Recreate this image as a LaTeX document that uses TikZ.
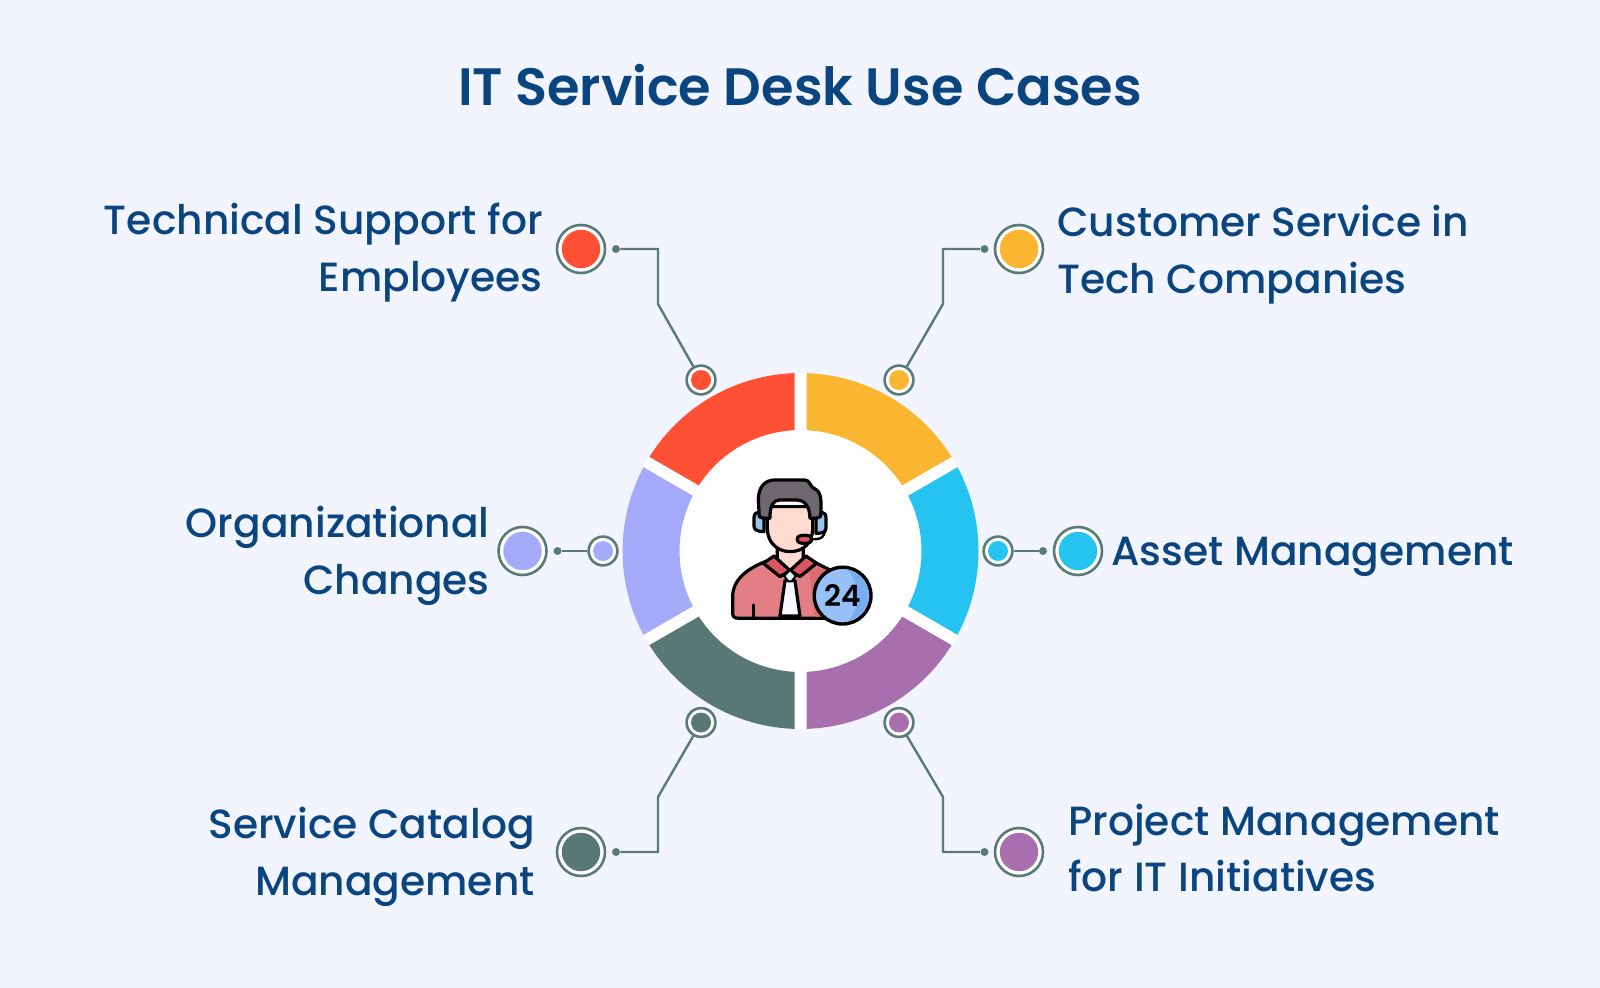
\documentclass[tikz,border=0pt]{standalone}
\usepackage{fontspec}
\setmainfont{Poppins Medium}
\newfontfamily\headfont{Poppins SemiBold}
\usepackage{tikz}

\definecolor{pageBg}{HTML}{F2F5FF}
\definecolor{navy}{HTML}{0A4580}
\definecolor{wireCol}{HTML}{5A7A75}
\definecolor{segRed}{HTML}{FF5035}
\definecolor{segOrange}{HTML}{FBB631}
\definecolor{segBlue}{HTML}{25C4F0}
\definecolor{segPurple}{HTML}{A76FAE}
\definecolor{segTeal}{HTML}{587875}
\definecolor{segLav}{HTML}{A5ABFB}
\definecolor{suitCol}{HTML}{E27F84}
\definecolor{suitDark}{HTML}{DD6B72}
\definecolor{collarCol}{HTML}{DA5560}
\definecolor{skinCol}{HTML}{FFDCCF}
\definecolor{hairCol}{HTML}{6E6770}
\definecolor{cupCol}{HTML}{9CC3EC}
\definecolor{badgeCol}{HTML}{97C0F7}
\definecolor{badgeDark}{HTML}{78ADF2}

\begin{document}
\begin{tikzpicture}[x=0.25mm,y=-0.25mm,
        ring/.style={circle,draw=wireCol,fill=white,line width=0.65mm,inner sep=0pt},
        big ring/.style={ring,minimum size=12mm},
        small ring/.style={ring,minimum size=7.2mm},
        big dot/.style={circle,inner sep=0pt,minimum size=9.6mm},
        small dot/.style={circle,inner sep=0pt,minimum size=5mm},
        tip/.style={circle,fill=wireCol,inner sep=0pt,minimum size=2mm},
        wire/.style={draw=wireCol,line width=0.6mm},
        label/.style={text=navy,inner sep=0pt,font=\fontsize{29}{40.5}\selectfont},
        ink/.style={draw=black,line width=0.8mm,line join=round,line cap=round}]

    \useasboundingbox[fill=pageBg] (0,0) rectangle (1600,988);

    \node[text=navy,font=\fontsize{37.4}{44}\headfont] (title) at (800,85) {IT Service Desk Use Cases};

    \fill[white] (800.5,551) circle[radius=178];
    \begin{scope}[shift={(800.5,551)}]
        \foreach \a/\col in {-90/segOrange,-30/segBlue,30/segPurple,90/segTeal,150/segLav,210/segRed}
            \fill[\col] (\a+1.93:178) arc[start angle=\a+1.93,end angle=\a+58.07,radius=178]
                -- (\a+57.16:121) arc[start angle=\a+57.16,end angle=\a+2.84,radius=121] -- cycle;
    \end{scope}

    \node[big ring] (redBig) at (581,249) {};
    \node[big dot,fill=segRed] at (redBig) {};
    \node[tip] (redTip) at (616,249) {};
    \coordinate (redKnee) at (658,249);
    \coordinate (redBend) at (658,304);
    \node[small ring] (redSmall) at (701,380) {};
    \node[small dot,fill=segRed] at (redSmall) {};
    \draw[wire] (redTip) -- (redKnee) -- (redBend) -- (redSmall);

    \node[big ring] (orangeBig) at (1019,249) {};
    \node[big dot,fill=segOrange] at (orangeBig) {};
    \node[tip] (orangeTip) at (984.5,249) {};
    \coordinate (orangeKnee) at (943,249);
    \coordinate (orangeBend) at (943,304);
    \node[small ring] (orangeSmall) at (899,380) {};
    \node[small dot,fill=segOrange] at (orangeSmall) {};
    \draw[wire] (orangeTip) -- (orangeKnee) -- (orangeBend) -- (orangeSmall);

    \node[big ring] (blueBig) at (1078,551) {};
    \node[big dot,fill=segBlue] at (blueBig) {};
    \node[tip] (blueTip) at (1043,551) {};
    \node[small ring] (blueSmall) at (998,551) {};
    \node[small dot,fill=segBlue] at (blueSmall) {};
    \draw[wire] (blueSmall) -- (blueTip);

    \node[big ring] (lavBig) at (522.5,551) {};
    \node[big dot,fill=segLav] at (lavBig) {};
    \node[tip] (lavTip) at (557.5,551) {};
    \node[small ring] (lavSmall) at (603,551) {};
    \node[small dot,fill=segLav] at (lavSmall) {};
    \draw[wire] (lavSmall) -- (lavTip);

    \node[big ring] (tealBig) at (581,852) {};
    \node[big dot,fill=segTeal] at (tealBig) {};
    \node[tip] (tealTip) at (616,852) {};
    \coordinate (tealKnee) at (658,852);
    \coordinate (tealBend) at (658,797);
    \node[small ring] (tealSmall) at (701,722.5) {};
    \node[small dot,fill=segTeal] at (tealSmall) {};
    \draw[wire] (tealTip) -- (tealKnee) -- (tealBend) -- (tealSmall);

    \node[big ring] (purpleBig) at (1019,852) {};
    \node[big dot,fill=segPurple] at (purpleBig) {};
    \node[tip] (purpleTip) at (984.5,852) {};
    \coordinate (purpleKnee) at (943,852);
    \coordinate (purpleBend) at (943,797);
    \node[small ring] (purpleSmall) at (899,722.5) {};
    \node[small dot,fill=segPurple] at (purpleSmall) {};
    \draw[wire] (purpleTip) -- (purpleKnee) -- (purpleBend) -- (purpleSmall);

    \node[label,anchor=east,align=right] (redText) at (543,253) {Technical Support for\\Employees};
    \node[label,anchor=west,align=left] (orangeText) at (1057,255) {Customer Service in\\Tech Companies};
    \node[label,anchor=west] (blueText) at (1111,557) {Asset Management};
    \node[label,anchor=east,align=right] (lavText) at (490,556) {Organizational\\Changes};
    \node[label,anchor=east,align=right] (tealText) at (535,857) {Service Catalog\\Management};
    \node[label,anchor=west,align=left] (purpleText) at (1068,848) {Project Management\\for IT Initiatives};

    \begin{scope}[shift={(690,450)},x=0.0833mm,y=-0.0833mm]
        \draw[ink,fill=suitCol] (128,490) -- (128,440) .. controls (128,385) and (180,350) .. (240,330)
            -- (360,330) -- (430,365) -- (430,505) -- (145,505) .. controls (133,505) and (128,500) .. (128,490) -- cycle;
        \fill[suitDark] (355,345) -- (430,365) -- (430,500) -- (375,500) -- cycle;
        \draw[ink] (190,465) -- (190,500);
        \draw[ink,fill=skinCol] (262,290) -- (262,335) -- (300,362) -- (340,335) -- (340,290);
        \draw[ink,fill=collarCol] (220,340) -- (252,318) -- (300,362) -- (270,380) -- cycle;
        \draw[ink,fill=collarCol] (380,340) -- (348,318) -- (300,362) -- (330,380) -- cycle;
        \draw[ink,fill=blue!3] (285,392) -- (315,392) -- (330,498) -- (270,498) -- cycle;
        \draw[ink,line width=0.5mm,fill=cyan!15] (300,360) -- (318,378) -- (305,394) -- (295,394) -- (282,378) -- cycle;
        \draw[ink,fill=cupCol] (222,188) -- (205,188) .. controls (195,188) and (192,195) .. (192,205)
            -- (192,228) .. controls (192,238) and (200,245) .. (222,245) -- cycle;
        \draw[ink,fill=cupCol] (378,188) -- (398,188) .. controls (405,188) and (408,195) .. (408,205)
            -- (408,235) .. controls (408,245) and (400,250) .. (378,250) -- cycle;
        \draw[ink,fill=skinCol] (232,170) -- (232,235) .. controls (232,280) and (265,305) .. (300,305)
            .. controls (340,305) and (368,280) .. (368,235) -- (368,170) -- cycle;
        \draw[ink,fill=hairCol] (220,205) -- (208,200) -- (205,150) .. controls (205,110) and (225,90) .. (255,90)
            -- (345,90) .. controls (360,90) and (360,110) .. (372,115) .. controls (395,125) and (395,150) .. (392,200)
            -- (378,205) -- (360,205) .. controls (360,165) and (340,150) .. (320,150) -- (270,150)
            .. controls (250,150) and (240,165) .. (240,205) -- cycle;
        \draw[ink,line width=0.6mm] (404,240) .. controls (404,262) and (395,268) .. (365,268);
        \draw[ink,fill=collarCol] (322,268) .. controls (322,258) and (330,256) .. (345,256)
            .. controls (360,256) and (365,260) .. (365,268) .. controls (365,278) and (355,280) .. (345,280)
            .. controls (330,280) and (322,278) .. (322,268) -- cycle;
        \node[circle,draw=black,line width=0.85mm,fill=badgeCol,minimum size=14.2mm,inner sep=0pt] (badge) at (458,437) {};
        \fill[badgeDark] (470,358) arc[start angle=-80,end angle=75,radius=79] .. controls (510,480) and (510,390) .. (470,358) -- cycle;
        \node[font=\fontsize{21}{21}\headfont] (badgeText) at (badge.center) {24};
    \end{scope}

\end{tikzpicture}
\end{document}
